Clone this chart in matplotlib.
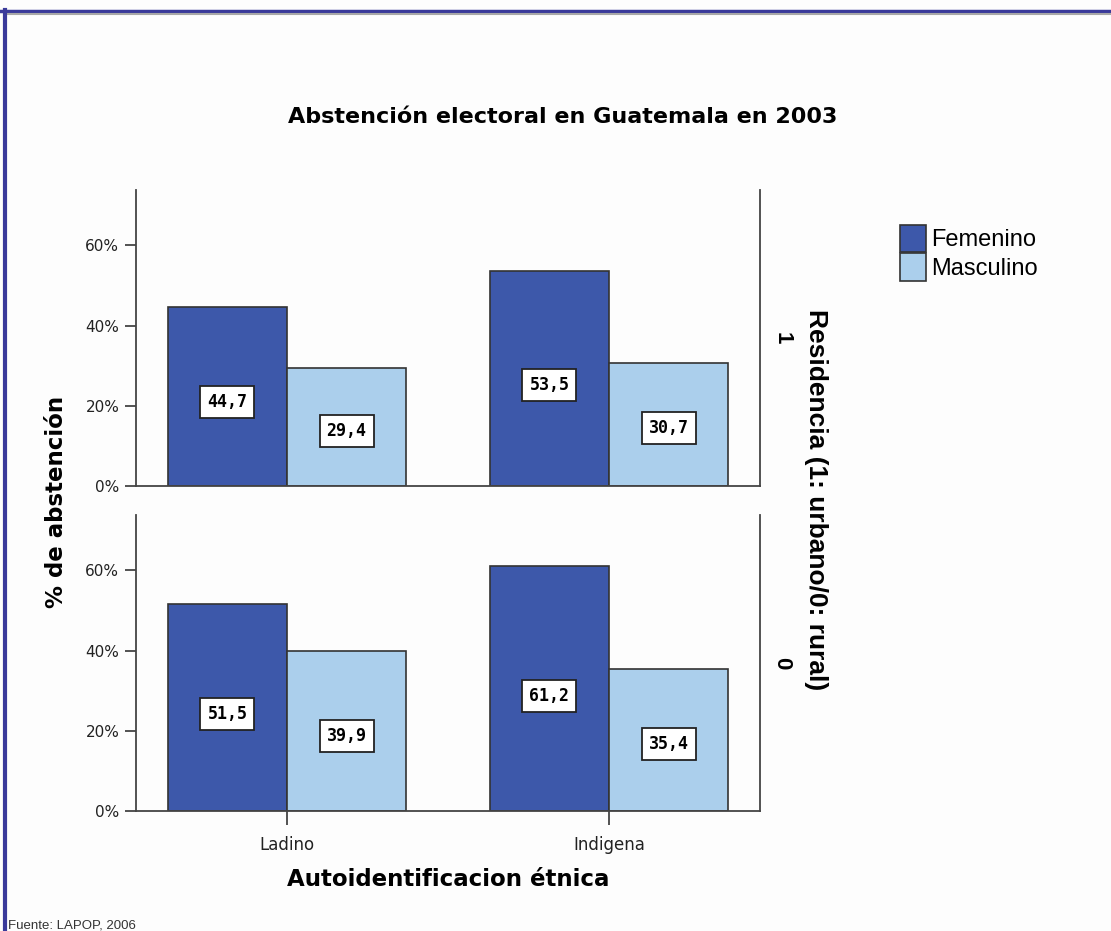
import numpy as np
import matplotlib.pyplot as plt
from matplotlib.lines import Line2D

plt.rcParams.update({'font.family': ['DejaVu Sans']})

# Data
categories = ['Ladino', 'Indigena']
series = ['Femenino', 'Masculino']
rows = ['1', '0']
urbano_fem = [44.7, 53.5]
urbano_masc = [29.4, 30.7]
rural_fem = [51.5, 61.2]
rural_masc = [39.9, 35.4]
yticks = [0, 20, 40, 60]

colours = '#3D58AA', '#ABCFEC'
edge = '#333333'
bg = '#FDFDFD'

fig = plt.figure(figsize=(11.11, 9.31), dpi=100)
fig.patch.set_facecolor(bg)

# frame lines of the original viewer
fig.add_artist(Line2D([0, 1], [1 - 11/931, 1 - 11/931], color='#3A3A9A', lw=2.5))
fig.add_artist(Line2D([7/1111, 1], [1 - 13.5/931, 1 - 13.5/931], color='#A8A8A8', lw=1.5))
fig.add_artist(Line2D([5/1111, 5/1111], [0, 1 - 10/931], color='#3A3A9A', lw=3))

left, right = 136/1111, 760/1111
panels = [(1 - 486/931, 1 - 190/931), (1 - 811/931, 1 - 515/931)]
data = [(urbano_fem, urbano_masc), (rural_fem, rural_masc)]

x = np.arange(len(categories))
w = 0.37
axes = []
for i, ((y0, y1), (fem, masc)) in enumerate(zip(panels, data)):
    ax = fig.add_axes([left, y0, right - left, y1 - y0])
    ax.set_facecolor(bg)
    for j, vals in enumerate((fem, masc)):
        xpos = x - w/2 + j*w
        ax.bar(xpos, vals, width=w, color=colours[j], edgecolor=edge,
               linewidth=1.2, label=series[j], zorder=2)
        for xx, v in zip(xpos, vals):
            ax.text(xx, v*0.47, ('%.1f' % v).replace('.', ','), ha='center', va='center',
                    fontsize=12, fontweight='bold', family='DejaVu Sans Mono', zorder=3,
                    bbox=dict(boxstyle='square,pad=0.42', fc='white', ec='#222222', lw=1.3))
    ax.set_xlim(-0.469, 1.469)
    ax.set_ylim(0, 73.8)
    ax.set_yticks(yticks)
    ax.set_yticklabels(['%d%%' % t for t in yticks], fontsize=11, color='#222222')
    ax.spines['top'].set_visible(False)
    for s in ('left', 'bottom', 'right'):
        ax.spines[s].set_color('#444444')
        ax.spines[s].set_linewidth(1.3)
    ax.tick_params(axis='y', length=8, width=1.3, color='#444444', pad=4)
    ax.text(1.035, 0.5, rows[i], transform=ax.transAxes, rotation=-90,
            ha='center', va='center', fontsize=16, fontweight='bold',
            family='Liberation Sans')
    if i == 0:
        ax.set_xticks([])
    else:
        ax.set_xticks(x)
        ax.set_xticklabels(categories, fontsize=12, color='#222222')
        ax.tick_params(axis='x', length=10, width=1.3, color='#444444', pad=8)
    axes.append(ax)

fig.text(563/1111, 1 - 117/931, 'Abstención electoral en Guatemala en 2003',
         ha='center', va='center', fontsize=16, fontweight='bold')
fig.text(57/1111, 1 - 502/931, '% de abstención', rotation=90,
         ha='center', va='center', fontsize=16.5, fontweight='bold')
fig.text(816/1111, 1 - 500/931, 'Residencia (1: urbano/0: rural)', rotation=-90,
         ha='center', va='center', fontsize=19, fontweight='bold',
         family='Liberation Sans')
fig.text(448/1111, 1 - 880/931, 'Autoidentificacion étnica',
         ha='center', va='center', fontsize=16.5, fontweight='bold')
fig.text(8/1111, 1 - 926/931, 'Fuente: LAPOP, 2006', family='Liberation Sans',
         ha='left', va='center', fontsize=9.5, color='#333333')

handles, labels = axes[0].get_legend_handles_labels()
fig.legend(handles, labels, loc='upper left', bbox_to_anchor=(900/1111, 1 - 225/931),
           frameon=False, prop={'family': 'Liberation Sans', 'size': 17},
           handlelength=1.1, handleheight=1.4, borderpad=0,
           handletextpad=0.2, labelspacing=0.05, borderaxespad=0)

plt.savefig('out.png', dpi=100, facecolor=fig.get_facecolor())
